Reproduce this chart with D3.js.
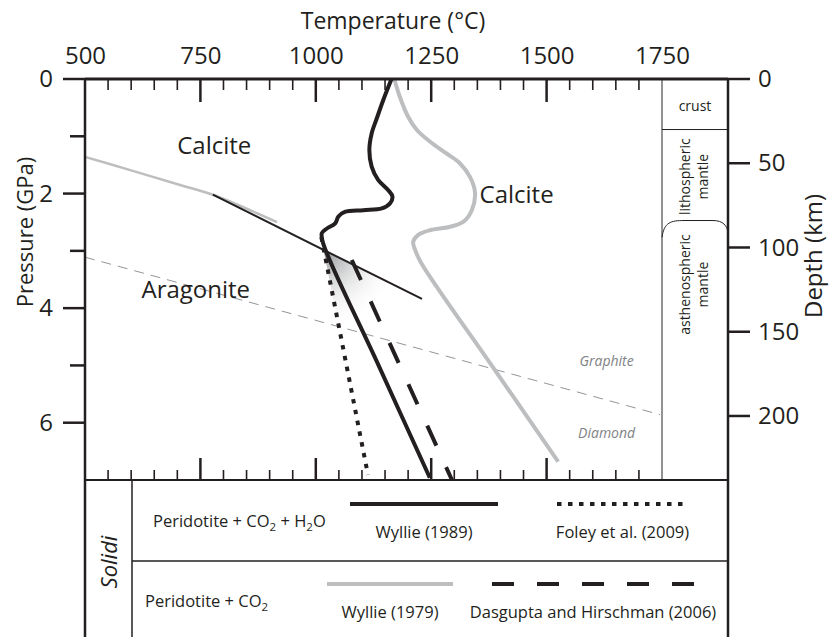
<!DOCTYPE html>
<html>
<head>
<meta charset="utf-8">
<script src="https://cdn.jsdelivr.net/npm/d3@7"></script>
<style>
  html, body { margin: 0; padding: 0; background: #fff; }
  svg { display: block; font-family: 'Open Sans', sans-serif; }
</style>
</head>
<body>
<div id="app"></div>
<script>
// values: [temperature °C, pressure GPa]
const wyllie1989 = [
  [1164, 0], [1146, 0.37], [1132, 0.69], [1121, 0.95], [1116, 1.24], [1121, 1.53],
  [1135, 1.76], [1157, 1.94], [1166, 2.05], [1161, 2.17], [1143, 2.26], [1103, 2.29],
  [1063, 2.32], [1049, 2.40], [1042, 2.52], [1024, 2.61], [1013, 2.69], [1016, 2.87],
  [1136, 5.0], [1247, 6.96]
]
const wyllie1979 = [
  [1170, 0], [1182, 0.31], [1200, 0.66], [1219, 0.89], [1247, 1.09], [1283, 1.30],
  [1312, 1.47], [1334, 1.71], [1345, 1.99], [1338, 2.29], [1320, 2.49], [1291, 2.58],
  [1247, 2.64], [1222, 2.72], [1211, 2.84], [1215, 2.98], [1229, 3.22], [1381, 5.0],
  [1525, 6.68]
]
const foley2009 = [[1012, 2.76], [1113, 6.91]]
const dasgupta2006 = [[1078, 3.16], [1295, 7.0]]
const calciteAragoniteOld = [[500, 1.36], [598, 1.59], [706, 1.85], [777, 2.02], [916, 2.50]]
const calciteAragonite = [[777, 2.02], [1230, 3.84]]
const graphiteDiamond = [[500, 3.11], [1746, 5.86]]
const shadeWedge = [[1017, 2.99], [1200, 3.72], [1150, 4.8], [1061, 4.8]]

const tempLabels = [500, 750, 1000, 1250, 1500, 1750]
const tempMajor = [750, 1000, 1250, 1500]
const tempMinor = [550, 600, 650, 700, 800, 850, 900, 950, 1050, 1100, 1150, 1200,
  1300, 1350, 1400, 1450, 1550, 1600, 1650, 1700]
const pressMajor = [0, 2, 4, 6]
const pressMinor = [1, 3, 5]
const depthTicks = [0, 50, 100, 150, 200]
const kmPerGPa = 34

const ink = '#231f20'
const grey = '#bcbec0'

const W = 830
const H = 637
const box = { left: 85, right: 728, top: 79, bottom: 480, column: 662 }

const svg = d3.select('#app')
  .append('svg')
  .attr('width', W)
  .attr('height', H)

const x = d3.scaleLinear().domain([500, 1750]).range([box.left, box.column])
const y = d3.scaleLinear().domain([0, 7]).range([box.top, box.bottom])
const depth = d3.scaleLinear().domain([0, 7 * kmPerGPa]).range([box.top, box.bottom])

const line = d3.line().x(d => x(d[0])).y(d => y(d[1]))
const smooth = d3.line().x(d => x(d[0])).y(d => y(d[1])).curve(d3.curveCatmullRom.alpha(0.5))

// shaded wedge
const grad = svg.append('defs')
  .append('radialGradient')
  .attr('id', 'wedge')
  .attr('gradientUnits', 'userSpaceOnUse')
  .attr('cx', x(shadeWedge[0][0]))
  .attr('cy', y(shadeWedge[0][1]))
  .attr('r', 78)
grad.append('stop').attr('offset', 0).attr('stop-color', '#8f9193')
grad.append('stop').attr('offset', 1).attr('stop-color', '#fff').attr('stop-opacity', 0)

svg.append('path')
  .attr('d', line(shadeWedge) + 'Z')
  .attr('fill', 'url(#wedge)')

// phase boundaries
svg.append('path')
  .attr('d', line(graphiteDiamond))
  .attr('fill', 'none')
  .attr('stroke', '#939598')
  .attr('stroke-width', 1)
  .attr('stroke-dasharray', '10,7')

svg.append('path')
  .attr('d', smooth(calciteAragoniteOld))
  .attr('fill', 'none')
  .attr('stroke', grey)
  .attr('stroke-width', 2.5)

svg.append('path')
  .attr('d', line(calciteAragonite))
  .attr('fill', 'none')
  .attr('stroke', ink)
  .attr('stroke-width', 2)

// solidi
const curves = [
  { data: wyllie1979, gen: smooth, stroke: grey, dash: null },
  { data: dasgupta2006, gen: line, stroke: ink, dash: '22,23.5' },
  { data: foley2009, gen: line, stroke: ink, dash: '4.5,6.5' },
  { data: wyllie1989, gen: smooth, stroke: ink, dash: null }
]
curves.forEach(c => {
  svg.append('path')
    .attr('d', c.gen(c.data))
    .attr('fill', 'none')
    .attr('stroke', c.stroke)
    .attr('stroke-width', 4)
    .attr('stroke-dasharray', c.dash)
})

// depth column
svg.append('line')
  .attr('x1', box.column).attr('x2', box.column)
  .attr('y1', box.top).attr('y2', box.bottom)
  .attr('stroke', '#6d6e71').attr('stroke-width', 1.5)

svg.append('line')
  .attr('x1', box.column).attr('x2', box.right)
  .attr('y1', depth(30)).attr('y2', depth(30))
  .attr('stroke', ink).attr('stroke-width', 1)

svg.append('path')
  .attr('d', `M${box.column},${depth(94)} C${box.column + 2},${depth(85)} ${box.column + 9},${depth(84)} ${box.column + 22},${depth(84)}
    L${box.right - 15},${depth(84)} C${box.right - 5},${depth(84)} ${box.right - 1},${depth(87)} ${box.right},${depth(91)}`)
  .attr('fill', 'none')
  .attr('stroke', ink)
  .attr('stroke-width', 1)

const colText = svg.append('g')
  .attr('fill', ink)
  .attr('font-size', 14)
  .attr('text-anchor', 'middle')

colText.append('text')
  .attr('x', (box.column + box.right) / 2)
  .attr('y', 111)
  .text('crust')

const columnLabels = [
  { lines: ['lithospheric', 'mantle'], depthKm: 58 },
  { lines: ['asthenospheric', 'mantle'], depthKm: 122 }
]
columnLabels.forEach(c => {
  c.lines.forEach((t, i) => {
    colText.append('text')
      .attr('transform', `translate(${690 + i * 18},${depth(c.depthKm)}) rotate(-90)`)
      .text(t)
  })
})

// tick marks
const drawTicks = (values, pos, len, width, side) => {
  svg.append('g')
    .selectAll('line')
    .data(values)
    .join('line')
    .attr('stroke', ink)
    .attr('stroke-width', width)
    .attr('x1', d => side === 'left' ? box.left - len : side === 'right' ? box.right : pos(d))
    .attr('x2', d => side === 'left' ? box.left : side === 'right' ? box.right + len : pos(d))
    .attr('y1', d => side === 'top' ? box.top : side === 'bottom' ? box.bottom - len : pos(d))
    .attr('y2', d => side === 'top' ? box.top + len : side === 'bottom' ? box.bottom : pos(d))
}

drawTicks(tempMajor, x, 23, 2.5, 'top')
drawTicks(tempMinor, x, 11, 1.6, 'top')
drawTicks(tempMajor, x, 22, 2.5, 'bottom')
drawTicks(tempMinor, x, 10, 1.6, 'bottom')
drawTicks(pressMajor, y, 22, 2.5, 'left')
drawTicks(pressMinor, y, 15, 2.5, 'left')
drawTicks(depthTicks, depth, 22, 2.5, 'right')

// tick labels
const styleAxis = g => {
  g.select('.domain').remove()
  g.selectAll('.tick line').remove()
  g.attr('font-size', 24).attr('font-family', "'Open Sans', sans-serif")
  g.selectAll('text').attr('fill', ink)
}
const fmt = d3.format('d')

svg.append('g')
  .attr('transform', `translate(0,${box.top})`)
  .call(d3.axisTop(x).tickValues(tempLabels).tickSize(0).tickPadding(15).tickFormat(fmt))
  .call(styleAxis)

svg.append('g')
  .attr('transform', `translate(${box.left},0)`)
  .call(d3.axisLeft(y).tickValues(pressMajor).tickSize(0).tickPadding(32).tickFormat(fmt))
  .call(styleAxis)

svg.append('g')
  .attr('transform', `translate(${box.right},0)`)
  .call(d3.axisRight(depth).tickValues(depthTicks).tickSize(0).tickPadding(30).tickFormat(fmt))
  .call(styleAxis)

// frame and legend table
const legendSplit = 132
const rowLine = 561
const frameLines = [
  { x1: box.left, x2: box.right, y1: box.top, y2: box.top, w: 3 },
  { x1: box.left, x2: box.right, y1: box.bottom, y2: box.bottom, w: 2 },
  { x1: box.left, x2: box.left, y1: box.top, y2: H, w: 2.5 },
  { x1: box.right, x2: box.right, y1: box.top, y2: H, w: 2.5 },
  { x1: legendSplit, x2: legendSplit, y1: box.bottom, y2: H, w: 1.5 },
  { x1: legendSplit, x2: box.right, y1: rowLine, y2: rowLine, w: 1.5 }
]
svg.append('g')
  .selectAll('line')
  .data(frameLines)
  .join('line')
  .attr('x1', d => d.x1).attr('x2', d => d.x2)
  .attr('y1', d => d.y1).attr('y2', d => d.y2)
  .attr('stroke', ink)
  .attr('stroke-width', d => d.w)

// axis titles
svg.append('text')
  .attr('x', 393).attr('y', 29)
  .attr('text-anchor', 'middle')
  .attr('font-size', 23)
  .attr('fill', ink)
  .text('Temperature (°C)')

svg.append('text')
  .attr('transform', 'translate(33,232) rotate(-90)')
  .attr('text-anchor', 'middle')
  .attr('font-size', 22)
  .attr('fill', ink)
  .text('Pressure (GPa)')

svg.append('text')
  .attr('transform', 'translate(822,256) rotate(-90)')
  .attr('text-anchor', 'middle')
  .attr('font-size', 24)
  .attr('fill', ink)
  .text('Depth (km)')

// field labels
const fields = [
  { text: 'Calcite', t: 780, p: 1.31 },
  { text: 'Calcite', t: 1435, p: 2.16 },
  { text: 'Aragonite', t: 740, p: 3.83 }
]
svg.append('g')
  .selectAll('text')
  .data(fields)
  .join('text')
  .attr('x', d => x(d.t))
  .attr('y', d => y(d.p))
  .attr('text-anchor', 'middle')
  .attr('font-size', 24)
  .attr('fill', ink)
  .text(d => d.text)

const carbon = [
  { text: 'Graphite', t: 1630, p: 5.01 },
  { text: 'Diamond', t: 1630, p: 6.26 }
]
svg.append('g')
  .selectAll('text')
  .data(carbon)
  .join('text')
  .attr('x', d => x(d.t))
  .attr('y', d => y(d.p))
  .attr('text-anchor', 'middle')
  .attr('font-size', 14)
  .attr('font-style', 'italic')
  .attr('fill', '#808285')
  .text(d => d.text)

// legend
svg.append('text')
  .attr('transform', 'translate(117,562) rotate(-90)')
  .attr('text-anchor', 'middle')
  .attr('font-size', 22)
  .attr('font-style', 'italic')
  .attr('fill', ink)
  .text('Solidi')

const subText = (sel, parts) => {
  parts.forEach((p, i) => {
    const sub = i % 2 === 1
    sel.append('tspan')
      .attr('font-size', sub ? 11.5 : null)
      .attr('dy', sub ? 4 : (i > 0 ? -4 : 0))
      .text(p)
  })
}

const rows = [
  { parts: ['Peridotite + CO', '2', ' + H', '2', 'O'], x: 153, y: 527 },
  { parts: ['Peridotite + CO', '2'], x: 145, y: 607 }
]
rows.forEach(r => {
  svg.append('text')
    .attr('x', r.x).attr('y', r.y)
    .attr('font-size', 16.5)
    .attr('fill', ink)
    .call(subText, r.parts)
})

const keys = [
  { name: 'Wyllie (1989)', x1: 350, x2: 498, y: 504, stroke: ink, dash: null },
  { name: 'Foley et al. (2009)', x1: 557, x2: 688, y: 504, stroke: ink, dash: '4.5,6.5' },
  { name: 'Wyllie (1979)', x1: 327, x2: 453, y: 584, stroke: grey, dash: null },
  { name: 'Dasgupta and Hirschman (2006)', x1: 492, x2: 694, y: 584, stroke: ink, dash: '22,23' }
]
const key = svg.append('g')
key.selectAll('line')
  .data(keys)
  .join('line')
  .attr('x1', d => d.x1).attr('x2', d => d.x2)
  .attr('y1', d => d.y).attr('y2', d => d.y)
  .attr('stroke', d => d.stroke)
  .attr('stroke-width', 4)
  .attr('stroke-dasharray', d => d.dash)

key.selectAll('text')
  .data(keys)
  .join('text')
  .attr('x', d => (d.x1 + d.x2) / 2)
  .attr('y', d => d.y + 34)
  .attr('text-anchor', 'middle')
  .attr('font-size', 16.5)
  .attr('fill', ink)
  .text(d => d.name)
</script>
</body>
</html>
